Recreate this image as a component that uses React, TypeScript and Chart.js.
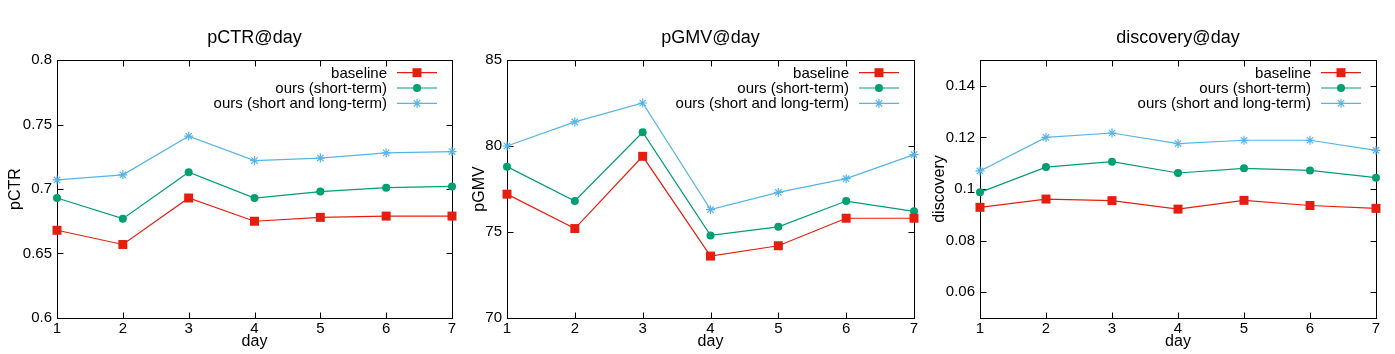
import React, { useEffect, useRef } from "react";
import { Chart, registerables } from "chart.js";

Chart.register(...registerables);

const days = ["1", "2", "3", "4", "5", "6", "7"];
const seriesNames = ["baseline", "ours (short-term)", "ours (short and long-term)"];
const seriesColors = ["#e51e10", "#009e73", "#56b4e9"];
const seriesMarkers = ["rect", "circle", "star"];

const ctrBaseline = [0.668, 0.657, 0.693, 0.675, 0.678, 0.679, 0.679];
const ctrShort = [0.693, 0.677, 0.713, 0.693, 0.698, 0.701, 0.702];
const ctrLong = [0.707, 0.711, 0.741, 0.722, 0.724, 0.728, 0.729];
const ctrTicks = [0.6, 0.65, 0.7, 0.75, 0.8];

const gmvBaseline = [77.2, 75.2, 79.4, 73.6, 74.2, 75.8, 75.8];
const gmvShort = [78.8, 76.8, 80.8, 74.8, 75.3, 76.8, 76.2];
const gmvLong = [80.0, 81.4, 82.5, 76.3, 77.3, 78.1, 79.5];
const gmvTicks = [70, 75, 80, 85];

const discBaseline = [0.0929, 0.0961, 0.0955, 0.0922, 0.0956, 0.0936, 0.0925];
const discShort = [0.0987, 0.1085, 0.1106, 0.1062, 0.108, 0.1072, 0.1044];
const discLong = [0.107, 0.12, 0.1217, 0.1176, 0.1189, 0.1189, 0.115];
const discTicks = [0.06, 0.08, 0.1, 0.12, 0.14];

const FONT = "'Liberation Sans', Arial, sans-serif";
const H = 354;

function drawMarker(ctx: CanvasRenderingContext2D, kind: string, x: number, y: number, color: string) {
  ctx.save();
  ctx.fillStyle = color;
  ctx.strokeStyle = color;
  if (kind === "rect") {
    ctx.fillRect(x - 4.5, y - 4.5, 9, 9);
  } else if (kind === "circle") {
    ctx.beginPath();
    ctx.arc(x, y, 4, 0, Math.PI * 2);
    ctx.fill();
  } else {
    ctx.lineWidth = 1.2;
    const r = 4.5;
    const d = r * Math.SQRT1_2;
    ctx.beginPath();
    ctx.moveTo(x - r, y);
    ctx.lineTo(x + r, y);
    ctx.moveTo(x, y - r);
    ctx.lineTo(x, y + r);
    ctx.moveTo(x - d, y - d);
    ctx.lineTo(x + d, y + d);
    ctx.moveTo(x - d, y + d);
    ctx.lineTo(x + d, y - d);
    ctx.stroke();
  }
  ctx.restore();
}

type PanelProps = {
  left: number;
  width: number;
  yw: number;
  rp: number;
  title: string;
  yLabel: string;
  yLabelX: number;
  series: number[][];
  yMin: number;
  yMax: number;
  yTicks: number[];
};

function Panel(p: PanelProps) {
  const ref = useRef<HTMLCanvasElement | null>(null);
  useEffect(() => {
    if (!ref.current) return;
    const framePlugin = {
      id: "frame",
      beforeDatasetsDraw(chart: any) {
        const { ctx, chartArea } = chart;
        const { left, right, top, bottom } = chartArea;
        ctx.save();
        ctx.strokeStyle = "#000";
        ctx.lineWidth = 1;
        const L = Math.round(left) + 0.5;
        const R = Math.round(right) + 0.5;
        const T = Math.round(top) + 0.5;
        const B = Math.round(bottom) + 0.5;
        ctx.strokeRect(L, T, R - L, B - T);
        const tl = 6;
        const xs = chart.scales.x;
        ctx.beginPath();
        xs.ticks.forEach((_t: any, i: number) => {
          const px = Math.round(xs.getPixelForTick(i)) + 0.5;
          ctx.moveTo(px, B);
          ctx.lineTo(px, B - tl);
          ctx.moveTo(px, T);
          ctx.lineTo(px, T + tl);
        });
        const ys = chart.scales.y;
        ys.ticks.forEach((t: any) => {
          const py = Math.round(ys.getPixelForValue(t.value)) + 0.5;
          ctx.moveTo(L, py);
          ctx.lineTo(L + tl, py);
          ctx.moveTo(R, py);
          ctx.lineTo(R - tl, py);
        });
        ctx.stroke();
        ctx.restore();
      },
      afterDraw(chart: any) {
        const { ctx, chartArea } = chart;
        const { left, right, top, bottom } = chartArea;
        ctx.save();
        ctx.fillStyle = "#000";
        // title
        ctx.font = `18px ${FONT}`;
        ctx.textAlign = "center";
        ctx.textBaseline = "alphabetic";
        ctx.fillText(p.title, (left + right) / 2, 43);
        // x label
        ctx.font = `16px ${FONT}`;
        ctx.fillText("day", (left + right) / 2, 346);
        // y label
        ctx.save();
        ctx.translate(p.yLabelX, (top + bottom) / 2);
        ctx.rotate(-Math.PI / 2);
        ctx.fillText(p.yLabel, 0, 0);
        ctx.restore();
        // legend
        ctx.font = `15px ${FONT}`;
        ctx.textAlign = "right";
        ctx.textBaseline = "middle";
        chart.data.datasets.forEach((ds: any, i: number) => {
          const y = top + 12.7 + i * 15.3;
          ctx.fillStyle = "#000";
          ctx.fillText(ds.label, right - 65, y + 1);
          ctx.strokeStyle = ds.borderColor;
          ctx.lineWidth = 1.2;
          ctx.beginPath();
          ctx.moveTo(right - 55, y);
          ctx.lineTo(right - 15, y);
          ctx.stroke();
          drawMarker(ctx, seriesMarkers[i], right - 35, y, ds.borderColor);
        });
        ctx.restore();
      },
    };

    const datasets = p.series.map((vals, i) => {
      const kind = seriesMarkers[i];
      return {
        label: seriesNames[i],
        data: vals,
        borderColor: seriesColors[i],
        backgroundColor: seriesColors[i],
        borderWidth: 1.2,
        pointStyle: kind,
        pointRadius: kind === "rect" ? 6.36 : kind === "circle" ? 4 : 4.5,
        pointBorderWidth: kind === "star" ? 1.2 : 0,
        pointBorderColor: seriesColors[i],
        pointBackgroundColor: seriesColors[i],
        tension: 0,
        clip: false as any,
        fill: false,
      };
    });

    const chart = new Chart(ref.current, {
      type: "line",
      data: { labels: days, datasets },
      plugins: [framePlugin],
      options: {
        animation: false,
        responsive: false,
        devicePixelRatio: 1,
        layout: { padding: { top: 60, right: p.rp, left: 0, bottom: 0 } },
        plugins: { legend: { display: false }, title: { display: false }, tooltip: { enabled: false } },
        scales: {
          x: {
            type: "category",
            offset: false,
            grid: { display: false, drawTicks: false },
            border: { display: false },
            ticks: { color: "#000", font: { family: FONT, size: 15 }, padding: 2, maxRotation: 0, autoSkip: false },
            afterFit(s: any) {
              s.height = 36;
            },
          },
          y: {
            type: "linear",
            min: p.yMin,
            max: p.yMax,
            grid: { display: false, drawTicks: false },
            border: { display: false },
            ticks: {
              color: "#000",
              font: { family: FONT, size: 15 },
              padding: 5,
              callback: (v: any) => String(Number(Number(v).toFixed(3))),
            },
            afterBuildTicks(s: any) {
              s.ticks = p.yTicks.map((v) => ({ value: v }));
            },
            afterFit(s: any) {
              s.width = p.yw;
            },
          },
        },
      } as any,
    });
    return () => chart.destroy();
  }, []);
  return (
    <canvas
      ref={ref}
      width={p.width}
      height={H}
      style={{ position: "absolute", left: p.left, top: 0, width: p.width, height: H }}
    />
  );
}

export default function App() {
  return (
    <div style={{ position: "absolute", left: 0, top: 0, width: 1395, height: H, background: "#fff" }}>
      <Panel
        left={0}
        width={465}
        yw={57}
        rp={13}
        title="pCTR@day"
        yLabel="pCTR"
        yLabelX={19.5}
        series={[ctrBaseline, ctrShort, ctrLong]}
        yMin={0.6}
        yMax={0.8}
        yTicks={ctrTicks}
      />
      <Panel
        left={465}
        width={465}
        yw={42}
        rp={16}
        title="pGMV@day"
        yLabel="pGMV"
        yLabelX={18.8}
        series={[gmvBaseline, gmvShort, gmvLong]}
        yMin={70}
        yMax={85}
        yTicks={gmvTicks}
      />
      <Panel
        left={930}
        width={465}
        yw={50}
        rp={19}
        title="discovery@day"
        yLabel="discovery"
        yLabelX={13.5}
        series={[discBaseline, discShort, discLong]}
        yMin={0.05}
        yMax={0.15}
        yTicks={discTicks}
      />
    </div>
  );
}
